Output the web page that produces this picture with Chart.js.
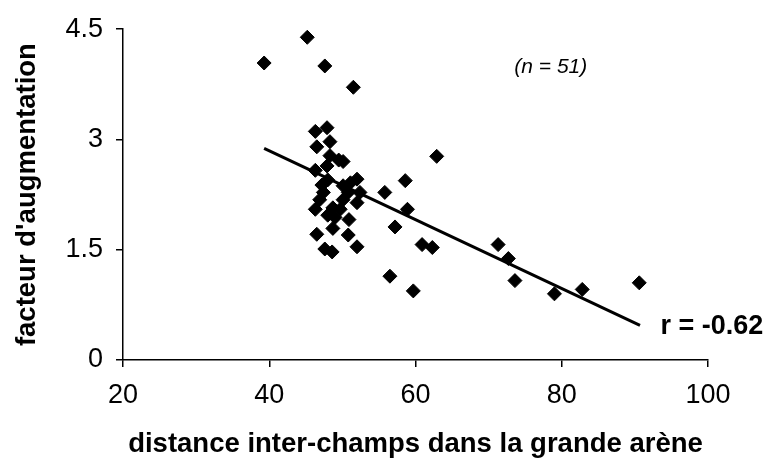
<!DOCTYPE html>
<html>
<head>
<meta charset="utf-8">
<script src="https://cdn.jsdelivr.net/npm/chart.js@4.4.1/dist/chart.umd.min.js"></script>
<style>
  html, body { margin: 0; padding: 0; background: #fff; }
  #wrap { width: 769px; height: 467px; }
</style>
</head>
<body>
<div id="wrap"><canvas id="scatterChart" width="769" height="467"></canvas></div>
<script>
// distance inter-champs (x) and facteur d'augmentation (y)
const distances = [
    39.3, 45.2, 47.6, 51.5,
    46.3, 47.9, 46.5, 48.3, 48.3, 50.1, 49.5, 62.9, 46.3, 47.9,
    52.0, 58.6, 55.8, 47.2, 47.4, 46.9, 50.1, 51.1, 50.8, 52.4,
    50.1, 52.0, 46.3, 48.7, 49.7, 48.0, 49.0, 58.9, 50.9, 48.7,
    50.8, 57.2, 46.5, 52.0, 47.6, 48.6, 60.9, 62.3, 56.5, 59.7,
    71.3, 72.7, 73.6, 79.0, 82.8, 90.6, 48.0
];
const facteurs = [
    4.04, 4.39, 4.00, 3.71,
    3.11, 3.16, 2.90, 2.97, 2.78, 2.70, 2.72, 2.77, 2.58, 2.64,
    2.46, 2.44, 2.28, 2.38, 2.28, 2.18, 2.37, 2.41, 2.28, 2.28,
    2.18, 2.14, 2.05, 2.07, 2.05, 1.97, 1.94, 2.05, 1.91, 1.79,
    1.70, 1.81, 1.71, 1.54, 1.51, 1.47, 1.57, 1.53, 1.14, 0.94,
    1.57, 1.38, 1.08, 0.90, 0.96, 1.05, 2.45
];
// regression line end points
const fitX = [39.3, 90.7];
const fitY = [2.88, 0.47];

const xTicks = [20, 40, 60, 80, 100];
const yTicks = [0, 1.5, 3, 4.5];

const font = 'Arial, "Liberation Sans", sans-serif';

// text labels placed in data coordinates
const annotations = {
    id: 'annotations',
    afterDraw(chart) {
        const ctx = chart.ctx;
        const x = chart.scales.x, y = chart.scales.y;
        ctx.save();
        ctx.fillStyle = '#000';
        ctx.textBaseline = 'middle';
        ctx.textAlign = 'center';
        ctx.font = 'italic 21px ' + font;
        ctx.fillText('(n = 51)', x.getPixelForValue(78.5), y.getPixelForValue(3.99));
        ctx.textAlign = 'left';
        ctx.font = 'bold 27px ' + font;
        ctx.fillText('r = -0.62', x.getPixelForValue(93.5), y.getPixelForValue(0.455));
        ctx.restore();
    }
};

const ctx = document.getElementById('scatterChart').getContext('2d');
new Chart(ctx, {
    type: 'scatter',
    data: {
        datasets: [{
            label: 'points',
            data: distances.map((d, i) => ({ x: d, y: facteurs[i] })),
            pointStyle: 'rectRot',
            pointRadius: 7,
            backgroundColor: '#000',
            borderColor: '#000',
            borderWidth: 1
        }, {
            label: 'fit',
            type: 'line',
            data: fitX.map((d, i) => ({ x: d, y: fitY[i] })),
            borderColor: '#000',
            borderWidth: 3,
            pointRadius: 0,
            fill: false
        }]
    },
    options: {
        responsive: false,
        animation: false,
        layout: { padding: { top: 24, right: 61, left: 0, bottom: 0 } },
        plugins: {
            legend: { display: false },
            tooltip: { enabled: false }
        },
        scales: {
            x: {
                type: 'linear',
                min: 20,
                max: 100,
                afterBuildTicks: axis => { axis.ticks = xTicks.map(v => ({ value: v })); },
                afterFit: axis => { axis.height = 107; },
                grid: { drawOnChartArea: false, drawTicks: true, tickLength: 7, color: '#000', lineWidth: 1.5 },
                border: { color: '#000', width: 1.5 },
                ticks: { color: '#000', font: { family: font, size: 27 }, padding: 12, maxRotation: 0 },
                title: {
                    display: true,
                    text: 'distance inter-champs dans la grande arène',
                    color: '#000',
                    font: { family: font, size: 27.5, weight: 'bold' },
                    padding: { top: 0, bottom: 6 }
                }
            },
            y: {
                type: 'linear',
                min: 0,
                max: 4.5,
                afterBuildTicks: axis => { axis.ticks = yTicks.map(v => ({ value: v })); },
                afterFit: axis => { axis.width = 123; },
                grid: { drawOnChartArea: false, drawTicks: true, tickLength: 7, color: '#000', lineWidth: 1.5 },
                border: { color: '#000', width: 1.5 },
                ticks: { color: '#000', font: { family: font, size: 27 }, padding: 13 },
                title: {
                    display: true,
                    text: "facteur d'augmentation",
                    color: '#000',
                    font: { family: font, size: 27.5, weight: 'bold' },
                    padding: { top: 11, bottom: 0 }
                }
            }
        }
    },
    plugins: [annotations]
});
</script>
</body>
</html>
